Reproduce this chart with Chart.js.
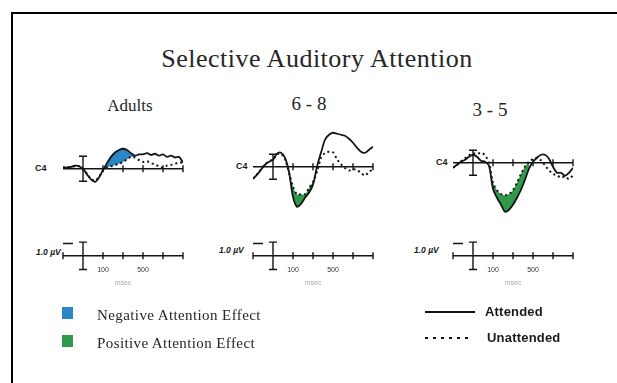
<!DOCTYPE html>
<html>
<head>
<meta charset="utf-8">
<title>Selective Auditory Attention</title>
<script src="https://cdn.jsdelivr.net/npm/chart.js@4/dist/chart.umd.min.js"></script>
<style>
  body { margin: 0; width: 617px; height: 383px; overflow: hidden; position: relative; background: #fff; }
  .abs { position: absolute; white-space: nowrap; line-height: 1; }
  .serif { font-family: "Liberation Serif", "Times New Roman", serif; color: #262626; }
  .sans { font-family: "Liberation Sans", Arial, sans-serif; color: #1a1a1a; }
  .center { transform: translateX(-50%); }
  #frame { position: absolute; left: 11px; top: 12px; width: 620px; height: 380px; border-top: 2px solid #000; border-left: 2px solid #000; }
  canvas { position: absolute; }
  .swatch { position: absolute; width: 11px; height: 12px; }
  .site { font-size: 9px; font-weight: bold; }
  .cal { font-size: 8.5px; font-weight: bold; font-style: italic; }
</style>
</head>
<body>
<div id="frame"></div>

<div class="abs serif center" style="left:317px; top:46px; font-size:26px; letter-spacing:0.5px;">Selective Auditory Attention</div>
<div class="abs serif center" style="left:130px; top:97px; font-size:17px;">Adults</div>
<div class="abs serif center" style="left:309px; top:94px; font-size:19px;">6 - 8</div>
<div class="abs serif center" style="left:490px; top:100px; font-size:19px;">3 - 5</div>

<div class="abs sans site" style="left:35px; top:164px;">C4</div>
<div class="abs sans site" style="left:236px; top:162px;">C4</div>
<div class="abs sans site" style="left:436px; top:158px;">C4</div>

<div class="abs sans cal" style="left:36px; top:248px;">1.0 µV</div>
<div class="abs sans cal" style="left:219px; top:246px;">1.0 µV</div>
<div class="abs sans cal" style="left:414px; top:246px;">1.0 µV</div>

<canvas id="wave-adults" width="140" height="120" style="left:53px; top:115px;"></canvas>
<canvas id="wave-68" width="140" height="120" style="left:243px; top:113px;"></canvas>
<canvas id="wave-35" width="140" height="120" style="left:443px; top:109px;"></canvas>

<canvas id="scale-adults" width="140" height="62" style="left:53px; top:228px;"></canvas>
<canvas id="scale-68" width="140" height="62" style="left:243px; top:228px;"></canvas>
<canvas id="scale-35" width="140" height="62" style="left:443px; top:228px;"></canvas>

<div class="swatch" style="left:62px; top:307px; background:#2a86c4;"></div>
<div class="abs serif" style="left:97px; top:308px; font-size:15px; letter-spacing:0.4px;">Negative Attention Effect</div>
<div class="swatch" style="left:62px; top:335px; background:#2f9a4a;"></div>
<div class="abs serif" style="left:97px; top:336px; font-size:15px; letter-spacing:0.4px;">Positive Attention Effect</div>

<div style="position:absolute; left:425px; top:311px; width:50px; border-top:2px solid #111;"></div>
<div class="abs sans" style="left:485px; top:305px; font-size:13px; font-weight:bold; letter-spacing:0.2px;">Attended</div>
<div style="position:absolute; left:425px; top:337px; width:46px; height:2px; background:repeating-linear-gradient(90deg, #111 0 3px, transparent 3px 8px);"></div>
<div class="abs sans" style="left:487px; top:331px; font-size:13px; font-weight:bold; letter-spacing:0.2px;">Unattended</div>

<script>
// time in ms, amplitude in µV (negative plotted up)
const times = [-300, -260, -220, -180, -140, -100, -60, -20, 20, 60, 100, 140, 180, 220, 260, 300,
  340, 380, 420, 460, 500, 540, 580, 620, 660, 700, 740, 780, 820, 860, 900];

const adultsAttended = [-0.1, -0.1, -0.15, -0.25, -0.2, 0, 0.45, 0.85, 1.05, 0.7, 0.1, -0.45, -0.95, -1.3, -1.5, -1.6,
  -1.5, -1.25, -1.05, -1.15, -1.15, -1.25, -1.1, -1.2, -1.05, -1.15, -0.95, -1.05, -0.9, -0.95, -0.5];
const adultsUnattended = [-0.1, -0.1, -0.15, -0.2, -0.2, 0, 0.4, 0.8, 0.95, 0.65, 0.15, -0.1, -0.2, -0.3, -0.4, -0.55,
  -0.75, -0.95, -0.9, -0.7, -0.55, -0.6, -0.45, -0.35, -0.2, -0.1, -0.25, -0.3, -0.4, -0.5, -0.5];

const age68Attended = [0.96, 0.64, 0.24, -0.16, -0.4, -0.56, -1.04, -1.12, -0.72, 0.4, 2.4, 3.2, 2.96, 2.48, 2.08, 1.44,
  0, -1.12, -2.16, -2.56, -2.72, -2.64, -2.56, -2.48, -2.24, -1.92, -1.52, -1.2, -1.12, -1.36, -1.6];
const age68Unattended = [0.96, 0.6, 0.2, -0.2, -0.45, -0.6, -1.0, -1.05, -0.6, 0.5, 1.6, 2.2, 2.2, 2.2, 1.7, 1.2,
  0.4, -0.7, -1.1, -1.2, -1.15, -0.6, -0.2, 0.1, 0.3, 0.2, 0.25, 0.5, 0.7, 0.4, 0.2];

const age35Attended = [0.4, 0.16, -0.08, -0.24, -0.48, -0.64, -0.48, -0.16, -0.08, 0.24, 2.08, 2.8, 3.36, 3.92, 3.76, 3.36,
  2.8, 2.16, 1.36, 0.48, -0.08, -0.4, -0.64, -0.64, -0.32, 0.32, 0.8, 0.8, 1.04, 0.8, 0.4];
const age35Unattended = [0.4, 0.2, -0.1, -0.35, -0.6, -0.75, -0.7, -0.8, -0.6, 0, 1.6, 2.2, 2.5, 2.6, 2.5, 2.2,
  1.6, 0.9, 0.3, -0.1, -0.3, -0.4, -0.2, 0.2, 0.6, 0.9, 1.0, 1.2, 1.1, 1.3, 1.0];

// windows where the attention effect is shaded
const adultsEffect = [100, 420];
const age68Effect = [60, 340];
const age35Effect = [60, 460];

const axisTicks = [100, 300, 500, 700, 900];
const scaleTicks = [-300, 100, 300, 500, 700, 900];
const scaleLabels = [100, 500];
const stimulusTime = -100;

const negativeColor = "#2a86c4";
const positiveColor = "#2f9a4a";
const ink = "#141414";

// draws the zero line, its tick marks and the ±1 µV calibration bar
const baselinePlugin = {
  id: "baseline",
  beforeDatasetsDraw(chart, args, opts) {
    const { ctx, scales: { x, y } } = chart;
    const y0 = y.getPixelForValue(0);
    ctx.save();
    ctx.strokeStyle = ink;
    ctx.lineWidth = 1.4;
    ctx.beginPath();
    ctx.moveTo(x.getPixelForValue(x.min), y0);
    ctx.lineTo(x.getPixelForValue(x.max), y0);
    opts.ticks.forEach((t) => {
      const px = x.getPixelForValue(t);
      ctx.moveTo(px, y0 - 3.5);
      ctx.lineTo(px, y0 + 3.5);
    });
    const bx = x.getPixelForValue(stimulusTime);
    const top = y.getPixelForValue(-1);
    const bottom = y.getPixelForValue(1);
    ctx.moveTo(bx, top);
    ctx.lineTo(bx, bottom);
    ctx.moveTo(bx - 4, top);
    ctx.lineTo(bx + 4, top);
    ctx.moveTo(bx - 4, bottom);
    ctx.lineTo(bx + 4, bottom);
    if (opts.marker) {
      const my = y.getPixelForValue(-0.9);
      ctx.moveTo(x.getPixelForValue(-300), my);
      ctx.lineTo(x.getPixelForValue(-200), my);
    }
    ctx.stroke();
    ctx.restore();
  },
};

function toPoints(values) {
  return times.map((t, i) => ({ x: t, y: values[i] }));
}

function inWindow(values, win) {
  return times.flatMap((t, i) => (t >= win[0] && t <= win[1] ? [{ x: t, y: values[i] }] : []));
}

function drawWave(id, attended, unattended, effect, color) {
  new Chart(document.getElementById(id), {
    type: "line",
    data: {
      datasets: [
        { data: toPoints(attended), borderColor: ink, borderWidth: 1.8, pointRadius: 0, tension: 0.3, fill: false },
        { data: toPoints(unattended), borderColor: ink, borderWidth: 2, borderDash: [2, 3], pointRadius: 0, tension: 0.3, fill: false },
        { data: inWindow(attended, effect), borderWidth: 0, pointRadius: 0, tension: 0.3, fill: "+1", backgroundColor: color },
        { data: inWindow(unattended, effect), borderWidth: 0, pointRadius: 0, tension: 0.3, fill: false },
      ],
    },
    options: {
      responsive: false,
      animation: false,
      events: [],
      layout: { padding: 10 },
      scales: {
        x: { type: "linear", min: -300, max: 900, display: false },
        y: { min: -3.5, max: 4.5, reverse: true, display: false },
      },
      plugins: {
        legend: { display: false },
        tooltip: { enabled: false },
        filler: { drawTime: "beforeDatasetsDraw" },
        baseline: { ticks: axisTicks, marker: false },
      },
    },
    plugins: [baselinePlugin],
  });
}

function drawScale(id) {
  new Chart(document.getElementById(id), {
    type: "line",
    data: { datasets: [] },
    options: {
      responsive: false,
      animation: false,
      events: [],
      layout: { padding: { top: 10, left: 10, right: 10, bottom: 2.7 } },
      scales: {
        x: {
          type: "linear",
          min: -300,
          max: 900,
          afterBuildTicks: (axis) => {
            axis.ticks = scaleLabels.map((v) => ({ value: v }));
          },
          grid: { display: false, drawTicks: false },
          border: { display: false },
          ticks: { padding: 3, color: "#333", font: { size: 7, family: "Liberation Sans" }, maxRotation: 0 },
          title: { display: true, text: "msec", color: "#aaa", padding: { top: 4, bottom: 0 }, font: { size: 7, family: "Liberation Sans" } },
        },
        y: { min: -1.3, max: 0.5, reverse: true, display: false },
      },
      plugins: {
        legend: { display: false },
        tooltip: { enabled: false },
        baseline: { ticks: scaleTicks, marker: true },
      },
    },
    plugins: [baselinePlugin],
  });
}

drawWave("wave-adults", adultsAttended, adultsUnattended, adultsEffect, negativeColor);
drawWave("wave-68", age68Attended, age68Unattended, age68Effect, positiveColor);
drawWave("wave-35", age35Attended, age35Unattended, age35Effect, positiveColor);

drawScale("scale-adults");
drawScale("scale-68");
drawScale("scale-35");
</script>
</body>
</html>
